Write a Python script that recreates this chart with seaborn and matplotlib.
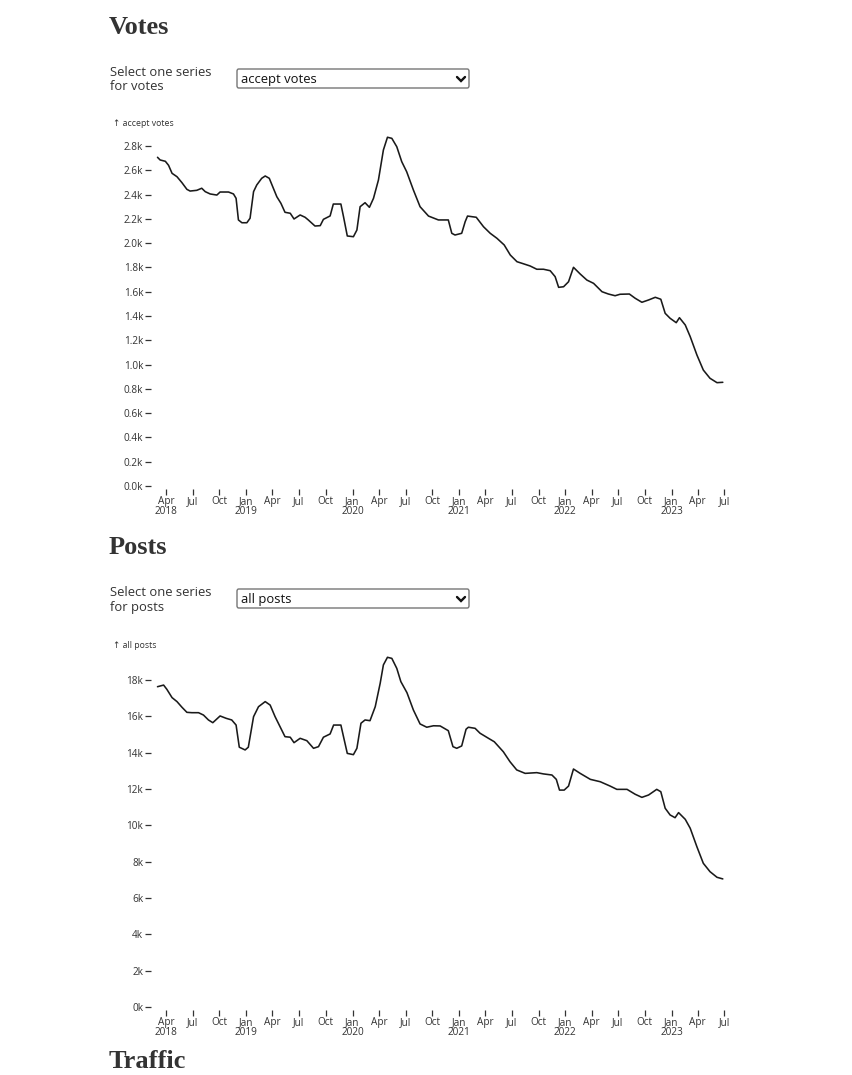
import matplotlib
matplotlib.use("Agg")
import matplotlib.pyplot as plt
import matplotlib.patches as mpatches
from matplotlib.lines import Line2D
import pandas as pd
import seaborn as sns

# ---------------- data ----------------
votes_dates = ["2018-03-02","2018-03-11","2018-03-29","2018-04-09","2018-04-21","2018-05-08","2018-05-25","2018-06-11","2018-06-22","2018-07-15",
               "2018-08-01","2018-08-13","2018-08-30","2018-09-22","2018-10-03","2018-11-01","2018-11-18","2018-11-27","2018-12-05","2018-12-17",
               "2019-01-03","2019-01-14","2019-01-26","2019-02-06","2019-02-23","2019-03-07","2019-03-21","2019-04-04","2019-04-16","2019-04-30",
               "2019-05-14","2019-06-01","2019-06-14","2019-07-05","2019-07-22","2019-08-02","2019-08-25","2019-09-12","2019-09-23","2019-10-16",
               "2019-10-27","2019-11-22","2019-12-01","2019-12-14","2020-01-04","2020-01-16","2020-01-27","2020-02-13","2020-02-28","2020-03-13",
               "2020-03-30","2020-04-16","2020-04-30","2020-05-15","2020-06-01","2020-06-18","2020-07-05","2020-07-28","2020-08-20","2020-09-18",
               "2020-10-22","2020-11-25","2020-12-07","2020-12-18","2021-01-10","2021-01-22","2021-01-30","2021-03-01","2021-03-26","2021-04-18",
               "2021-05-11","2021-06-05","2021-06-26","2021-07-19","2021-08-05","2021-09-02","2021-09-25","2021-10-18","2021-11-10","2021-11-27",
               "2021-12-09","2021-12-26","2022-01-12","2022-01-29","2022-02-21","2022-03-16","2022-04-08","2022-05-07","2022-05-29","2022-06-21",
               "2022-07-08","2022-08-09","2022-08-29","2022-09-21","2022-10-14","2022-11-06","2022-11-25","2022-12-10","2022-12-27","2023-01-17",
               "2023-01-28","2023-02-17","2023-03-06","2023-03-29","2023-04-20","2023-05-13","2023-06-06","2023-06-26"]
accept_votes = [2707,2685,2674,2641,2575,2547,2498,2443,2429,2435,
                2452,2424,2405,2396,2421,2421,2405,2369,2191,2168,
                2168,2205,2424,2479,2534,2553,2534,2452,2382,2328,
                2254,2246,2199,2232,2213,2191,2141,2144,2196,2224,
                2322,2322,2218,2059,2053,2108,2300,2333,2295,2369,
                2520,2767,2872,2863,2794,2671,2588,2438,2300,2223,
                2191,2191,2081,2067,2081,2177,2223,2213,2135,2081,
                2040,1985,1902,1847,1834,1812,1785,1785,1773,1724,
                1636,1641,1682,1801,1746,1696,1669,1600,1581,1567,
                1579,1581,1546,1513,1532,1554,1538,1422,1381,1345,
                1386,1326,1230,1079,955,887,851,854]

posts_dates = ["2018-03-02","2018-03-23","2018-04-03","2018-04-21","2018-05-08","2018-05-25","2018-06-11","2018-06-28","2018-07-21","2018-08-07",
               "2018-08-24","2018-09-08","2018-10-03","2018-10-24","2018-11-12","2018-11-27","2018-12-08","2018-12-28","2019-01-08","2019-01-26",
               "2019-02-12","2019-03-07","2019-03-24","2019-04-10","2019-04-27","2019-05-14","2019-06-01","2019-06-14","2019-07-05","2019-07-28",
               "2019-08-20","2019-09-06","2019-09-23","2019-10-16","2019-10-28","2019-11-22","2019-12-01","2019-12-14","2020-01-04","2020-01-16",
               "2020-01-30","2020-02-13","2020-03-01","2020-03-19","2020-04-05","2020-04-16","2020-04-30","2020-05-15","2020-06-01","2020-06-15",
               "2020-07-06","2020-07-28","2020-08-20","2020-09-12","2020-10-05","2020-10-28","2020-11-25","2020-12-11","2020-12-24","2021-01-10",
               "2021-01-25","2021-02-02","2021-02-25","2021-03-14","2021-04-12","2021-05-02","2021-06-02","2021-06-25","2021-07-18","2021-08-16",
               "2021-09-25","2021-10-18","2021-11-16","2021-12-01","2021-12-12","2021-12-28","2022-01-12","2022-01-29","2022-02-21","2022-03-28",
               "2022-05-01","2022-06-04","2022-06-27","2022-08-01","2022-08-29","2022-09-21","2022-10-14","2022-11-11","2022-11-25","2022-12-10",
               "2022-12-27","2023-01-13","2023-01-25","2023-02-17","2023-03-06","2023-03-29","2023-04-20","2023-05-13","2023-06-06","2023-06-26"]
all_posts = [17630,17720,17490,17030,16810,16500,16220,16200,16200,16070,
             15800,15650,16020,15890,15800,15520,14300,14150,14300,15980,
             16530,16810,16620,15980,15430,14880,14850,14550,14790,14660,
             14240,14330,14850,15030,15520,15520,14880,13960,13890,14240,
             15620,15800,15760,16530,17820,18830,19250,19190,18640,17910,
             17300,16350,15580,15400,15480,15470,15210,14330,14240,14370,
             15290,15400,15340,15070,14790,14600,14050,13500,13050,12860,
             12900,12830,12770,12530,11940,11940,12160,13100,12860,12530,
             12400,12160,11980,11980,11710,11540,11670,11980,11850,10940,
             10570,10420,10700,10330,9840,8820,7910,7450,7140,7050]

xtick_dates = ["2018-04-01","2018-07-01","2018-10-01","2019-01-01","2019-04-01","2019-07-01","2019-10-01",
               "2020-01-01","2020-04-01","2020-07-01","2020-10-01","2021-01-01","2021-04-01","2021-07-01",
               "2021-10-01","2022-01-01","2022-04-01","2022-07-01","2022-10-01","2023-01-01","2023-04-01","2023-07-01"]
xtick_labels = ["Apr\n2018","Jul","Oct","Jan\n2019","Apr","Jul","Oct","Jan\n2020","Apr","Jul","Oct",
                "Jan\n2021","Apr","Jul","Oct","Jan\n2022","Apr","Jul","Oct","Jan\n2023","Apr","Jul"]
votes_yticks = [0,200,400,600,800,1000,1200,1400,1600,1800,2000,2200,2400,2600,2800]
posts_yticks = [0,2000,4000,6000,8000,10000,12000,14000,16000,18000]

# ---------------- style ----------------
sns.set_theme(style="white")
plt.rcParams['font.family'] = ['Open Sans', 'DejaVu Sans']
TXT = "#333333"
SERIF = ['Liberation Serif', 'DejaVu Serif']

W, H = 853, 1075
fig = plt.figure(figsize=(W/100, H/100), dpi=100)
fig.patch.set_facecolor("white")

def fx(px):
    return px / W

def fy(py):
    return 1 - py / H

def add_section(title, ty, select_label, sel_y, option, lab_y, ylab, top_px, bot_px, ymax, dates, values, yticks, fmt):
    fig.text(fx(109), fy(ty), title, family=SERIF, weight='bold',
             fontsize=19, color=TXT, va='baseline', ha='left')
    fig.text(fx(110), fy(sel_y), select_label, fontsize=9.4, color=TXT, va='center', ha='left',
             linespacing=1.2)
    # dropdown
    bx0, by0, bx1, by1 = 237, sel_y - 10.5, 469, sel_y + 8.5
    box = mpatches.FancyBboxPatch((fx(bx0), fy(by1)), fx(bx1 - bx0), (by1 - by0) / H,
                                  boxstyle="round,pad=0,rounding_size=0.002",
                                  transform=fig.transFigure, facecolor="white",
                                  edgecolor="#767676", linewidth=1.0)
    fig.patches.append(box)
    fig.text(fx(241), fy(sel_y + 0.5), option, fontsize=9.4, color="#111111", va='center', ha='left')
    cx, cy = 461, sel_y - 0.5
    fig.lines.append(Line2D([fx(cx - 4), fx(cx), fx(cx + 4)], [fy(cy - 2), fy(cy + 2), fy(cy - 2)],
                            transform=fig.transFigure, color="#111111", linewidth=1.7,
                            solid_capstyle='round', solid_joinstyle='miter'))
    fig.text(fx(113), fy(lab_y), "\u2191 " + ylab, fontsize=6.3, color=TXT, va='center', ha='left')

    ax = fig.add_axes([fx(154), fy(bot_px), fx(733 - 154), (bot_px - top_px) / H])
    df = pd.DataFrame({"date": pd.to_datetime(dates), "value": values})
    sns.lineplot(data=df, x="date", y="value", ax=ax, color="#1a1a1a", linewidth=1.15)
    ax.set_xlim(pd.Timestamp("2018-02-18"), pd.Timestamp("2023-07-31"))
    ax.set_ylim(0, ymax)
    ax.set_xlabel("")
    ax.set_ylabel("")
    for s in ax.spines.values():
        s.set_visible(False)
    ax.spines['bottom'].set_position(('outward', 2.2))
    ax.spines['left'].set_position(('outward', 2.2))
    ax.set_xticks(pd.to_datetime(xtick_dates))
    ax.set_xticklabels(xtick_labels)
    ax.set_yticks(yticks)
    ax.set_yticklabels([fmt(v) for v in yticks])
    ax.tick_params(axis='x', bottom=True, length=4.3, width=0.9, color=TXT, labelsize=7.2,
                   labelcolor=TXT, pad=0.6, direction='out')
    ax.tick_params(axis='y', left=True, length=4.0, width=0.9, color=TXT, labelsize=7.2,
                   labelcolor=TXT, pad=1.5, direction='out')
    for lab in ax.get_xticklabels():
        lab.set_linespacing(0.92)
    ax.grid(False)
    ax.set_facecolor("none")
    return ax

add_section("Votes", 34, "Select one series\nfor votes", 79.5, "accept votes", 124, "accept votes",
            128, 486, (486 - 128) / 121.43 * 1000, votes_dates, accept_votes, votes_yticks,
            lambda v: f"{v/1000:.1f}k")

add_section("Posts", 554, "Select one series\nfor posts", 599.5, "all posts", 645, "all posts",
            650, 1007, (1007 - 650) / 18.167 * 1000, posts_dates, all_posts, posts_yticks,
            lambda v: f"{v/1000:.0f}k")

fig.text(fx(109), fy(1068), "Traffic", family=SERIF, weight='bold',
         fontsize=19, color=TXT, va='baseline', ha='left')

fig.savefig("out.png", dpi=100, facecolor="white")
